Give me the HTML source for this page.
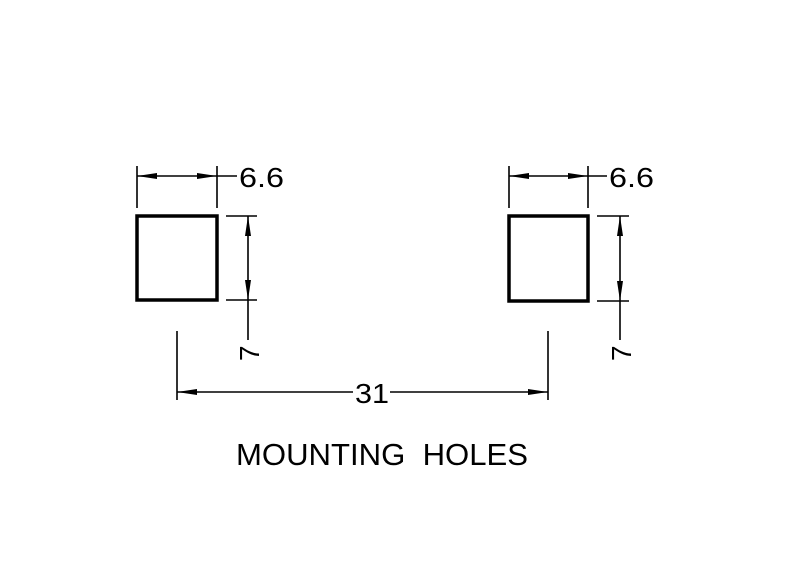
<!DOCTYPE html>
<html><head><style>html,body{margin:0;padding:0;background:#fff}svg{display:block}</style></head>
<body>
<svg width="800" height="576" viewBox="0 0 800 576" xmlns="http://www.w3.org/2000/svg">
<defs>
<marker id="a" viewBox="0 0 20 6" refX="20" refY="3" markerWidth="20" markerHeight="6" markerUnits="userSpaceOnUse" orient="auto-start-reverse"><path d="M0,0 L20,3 L0,6 Z" fill="#000"/></marker>
</defs>
<g fill="none" stroke="#000">
<rect x="137" y="216" width="80" height="84" stroke-width="3.5"/>
<rect x="509" y="216" width="79" height="85" stroke-width="3.5"/>
<g stroke-width="1.6">
<line x1="137" y1="166" x2="137" y2="208"/>
<line x1="217" y1="166" x2="217" y2="208"/>
<line x1="137" y1="176" x2="217" y2="176" marker-start="url(#a)" marker-end="url(#a)"/>
<line x1="217" y1="176" x2="237" y2="176"/>
<line x1="226" y1="216" x2="257" y2="216"/>
<line x1="226" y1="300" x2="257" y2="300"/>
<line x1="248" y1="216" x2="248" y2="300" marker-start="url(#a)" marker-end="url(#a)"/>
<line x1="248" y1="300" x2="248" y2="340"/>
<line x1="509" y1="166" x2="509" y2="208"/>
<line x1="588" y1="166" x2="588" y2="208"/>
<line x1="509" y1="176" x2="588" y2="176" marker-start="url(#a)" marker-end="url(#a)"/>
<line x1="588" y1="176" x2="607" y2="176"/>
<line x1="597" y1="216" x2="629" y2="216"/>
<line x1="597" y1="301" x2="629" y2="301"/>
<line x1="620" y1="216" x2="620" y2="301" marker-start="url(#a)" marker-end="url(#a)"/>
<line x1="620" y1="301" x2="620" y2="340"/>
<line x1="177" y1="331" x2="177" y2="400"/>
<line x1="548" y1="331" x2="548" y2="400"/>
<line x1="177" y1="392" x2="353" y2="392" marker-start="url(#a)"/>
<line x1="390" y1="392" x2="548" y2="392" marker-end="url(#a)"/>
</g>
</g>
<g font-family="Liberation Sans, sans-serif" fill="#000">
<text x="239" y="187" font-size="28" textLength="45" lengthAdjust="spacingAndGlyphs">6.6</text>
<text x="609" y="187" font-size="28" textLength="45" lengthAdjust="spacingAndGlyphs">6.6</text>
<text transform="translate(259,361) rotate(-90)" font-size="28">7</text>
<text transform="translate(631,361) rotate(-90)" font-size="28">7</text>
<text x="355" y="403" font-size="28" textLength="34" lengthAdjust="spacingAndGlyphs">31</text>
<text x="236" y="465" font-size="31" textLength="292" lengthAdjust="spacingAndGlyphs">MOUNTING&#160;&#160;HOLES</text>
</g>
</svg>
</body></html>
